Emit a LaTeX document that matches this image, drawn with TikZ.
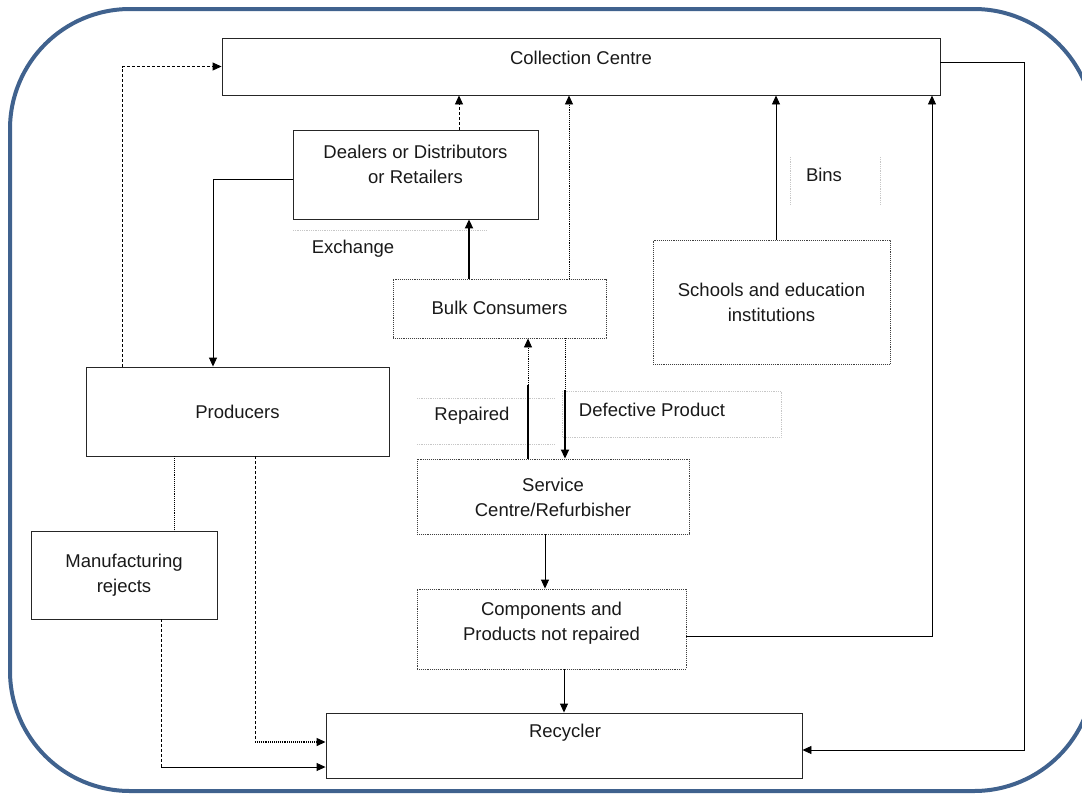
\documentclass[tikz,border=0pt]{standalone}
\usepackage{fontspec}
\setmainfont{Liberation Sans}
\usetikzlibrary{arrows.meta,calc}
\newcommand\dfont{\fontsize{18.5}{25}\selectfont}
\definecolor{frameblue}{RGB}{64,98,142}
\begin{document}
\begin{tikzpicture}[x=1pt,y=-1pt,
 box/.style={draw=black!85, line width=0.9pt, rectangle, inner sep=0pt},
 dbox/.style={box, densely dotted, draw=black!75},
 lbl/.style={font=\dfont, inner sep=0pt, align=center, text=black!90},
 faint/.style={draw=black!22, densely dotted, line width=0.8pt},
 ln/.style={line width=0.9pt},
 arr/.style={line width=0.9pt, -{Triangle[length=9pt,width=8pt]}},
]
\useasboundingbox (0,0) rectangle (1082,793);
\draw[frameblue, line width=4pt, rounded corners=120pt] (10,9) rectangle (1094,791);

% nodes
\node[box, minimum width=718, minimum height=57] (cc) at (581,66.5) {};
\node[lbl] (ccT) at (581,58) {Collection Centre};

\node[box, minimum width=245, minimum height=89] (deal) at (415.5,174.5) {};
\node[lbl] (dealT) at (415.5,164) {Dealers or Distributors\\or Retailers};

\node[lbl] (exch) at (353,249) {Exchange};
\draw[faint] (293,230) -- (487,230);

\node[dbox, minimum width=213, minimum height=59] (bulk) at (499.5,308.5) {};
\node[lbl] (bulkT) at (499.5,308) {Bulk Consumers};

\node[dbox, minimum width=237, minimum height=124] (sch) at (771.5,302) {};
\node[lbl] (schT) at (771.5,302) {Schools and education\\institutions};

\node[lbl] (bins) at (824,175) {Bins};
\draw[faint] (790,157) -- (790,204);
\draw[faint] (880,157) -- (880,204);

\node[box, minimum width=303, minimum height=89] (prod) at (237.5,411.5) {};
\node[lbl] (prodT) at (237.5,412) {Producers};

\node[box, minimum width=186, minimum height=88] (mfg) at (124,575) {};
\node[lbl] (mfgT) at (124,575) {Manufacturing\\rejects};

\node[lbl] (rep) at (472,416) {Repaired};
\draw[faint] (417,398) -- (555,398);
\draw[faint] (417,444) -- (555,444);

\node[lbl] (def) at (652,410) {Defective Product};
\draw[faint] (562,391) rectangle (781,437);

\node[dbox, minimum width=272, minimum height=75] (serv) at (553,496.5) {};
\node[lbl] (servT) at (553,497) {Service\\Centre/Refurbisher};

\node[dbox, minimum width=269, minimum height=80] (comp) at (551.5,629) {};
\node[lbl] (compT) at (551.5,623) {Components and\\Products not repaired};

\node[box, minimum width=476, minimum height=65] (rec) at (564,745.5) {};
\node[lbl] (recT) at (565,733) {Recycler};

\coordinate (rc) at (1024,750);
\coordinate (mk) at (161,767);
\coordinate (pk) at (255,742);
\coordinate (defk) at (565,390);
\coordinate (repk) at (528,385);

% connectors
\draw[arr, densely dashed] (prod.north -| 122,0) |- (cc.west);
\draw[arr] (deal.west |- 0,179) -| (prod.north -| 213,0);
\draw[arr, densely dashed] (deal.north -| 459,0) -- (cc.south -| 459,0);
\draw[arr, line width=2pt] (bulk.north -| 469,0) -- (deal.south -| 469,0);
\draw[arr, densely dotted] (bulk.north -| 569,0) -- (cc.south -| 569,0);
\draw[arr] (sch.north -| 776,0) -- (cc.south -| 776,0);
\draw[arr] (comp.east |- 0,636) -| (cc.south -| 932,0);
\draw[arr] (cc.east |- 0,62) -| (rc) -- (rec.east |- rc);
\draw[arr] (serv.south -| 545,0) -- (comp.north -| 545,0);
\draw[arr] (comp.south -| 564,0) -- (rec.north -| 564,0);
\draw[ln, densely dotted] (bulk.south -| defk) -- (defk);
\draw[arr, line width=1.8pt] (defk) -- (serv.north -| defk);
\draw[ln, line width=1.8pt] (serv.north -| repk) -- (repk);
\draw[arr, densely dotted] (repk) -- (bulk.south -| repk);
\draw[ln, densely dashed] (prod.south -| pk) -- (pk);
\draw[arr, densely dotted, line width=1.3pt] (pk) -- (rec.west |- pk);
\draw[ln, densely dotted] (prod.south -| 174,0) -- (mfg.north -| 174,0);
\draw[ln, densely dashed] (mfg.south -| mk) -- (mk);
\draw[arr] (mk) -- (rec.west |- mk);
\end{tikzpicture}
\end{document}
